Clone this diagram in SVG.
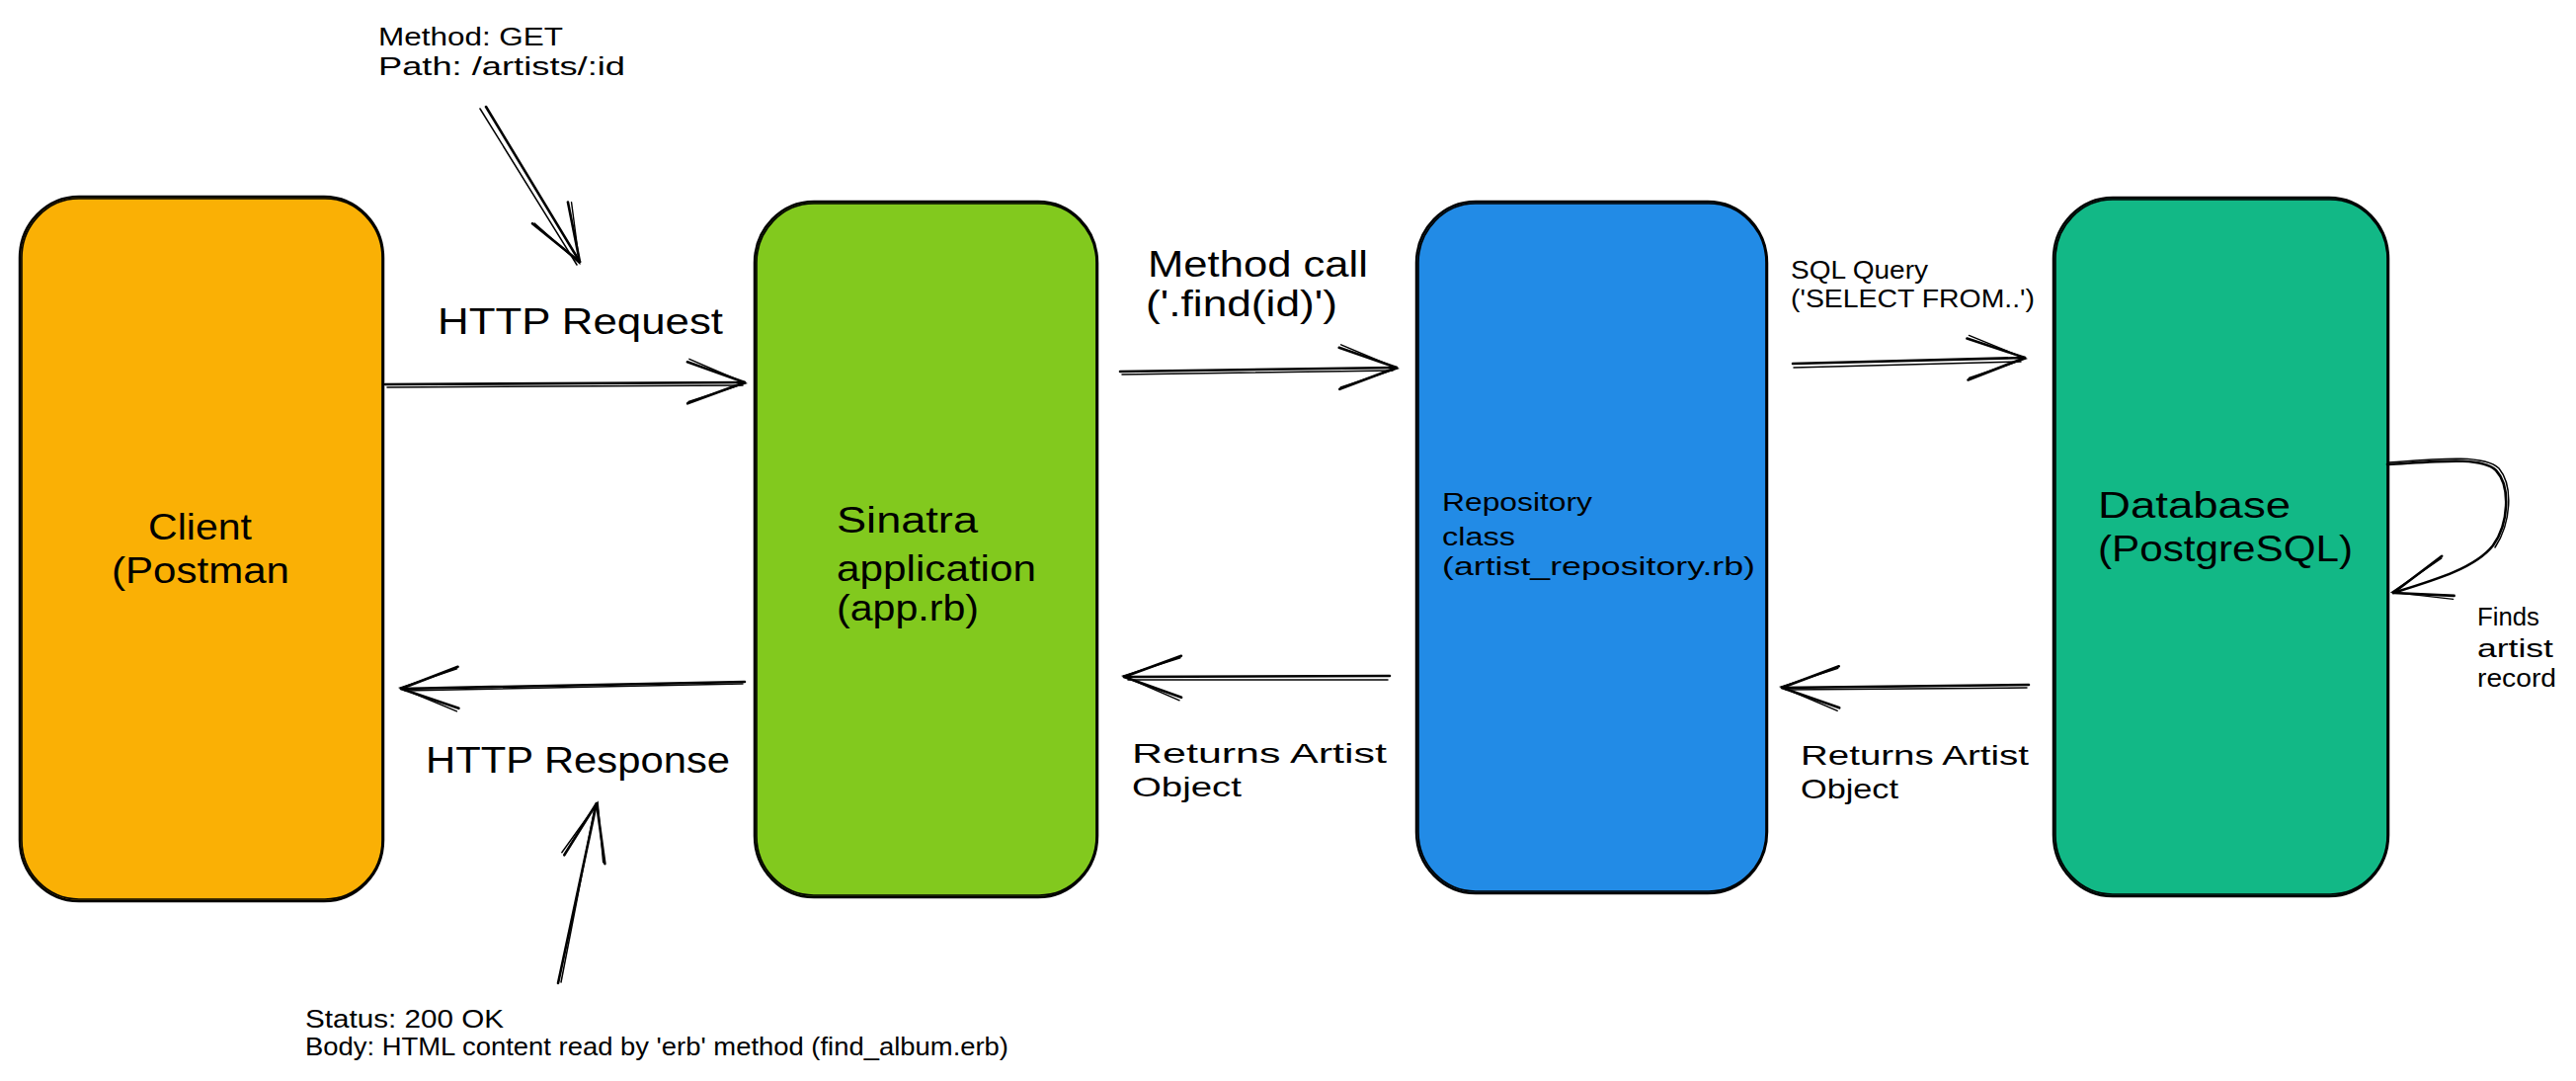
<svg xmlns="http://www.w3.org/2000/svg" width="2608" height="1094" viewBox="0 0 2608 1094">
<style>
.bx{stroke:#000;stroke-width:2.5}
.bx2{fill:none;stroke:#000;stroke-width:1.6}
.ln{fill:none;stroke:#000;stroke-width:2.6;stroke-linecap:round;stroke-linejoin:round}
.ln2{fill:none;stroke:#000;stroke-width:1.5;stroke-linecap:round}
text{font-family:"Liberation Sans",Arial,sans-serif;fill:#000}
.big{font-size:36px}
.mid{font-size:28px}
.sm{font-size:25px}
</style>
<defs>
<marker id="ah" markerUnits="userSpaceOnUse" markerWidth="80" markerHeight="60" refX="0" refY="0" viewBox="-70 -30 80 60" orient="auto" overflow="visible">
<path d="M-58,-21 L0,0 L-58,21" fill="none" stroke="#000" stroke-width="2.6" stroke-linecap="round" stroke-linejoin="round"/>
<path d="M-56,-24 L1,1 L-57,19" fill="none" stroke="#000" stroke-width="1.4" stroke-linecap="round"/>
</marker>
</defs>
<rect width="2608" height="1094" fill="#fff"/>

<g id="client">
<rect class="bx" x="20" y="199" width="368" height="713" rx="60" ry="62" fill="#fab005"/>
<rect class="bx2" x="22" y="201" width="365" height="709" rx="58" ry="60"/>
<text class="big" x="150" y="546" textLength="105" lengthAdjust="spacingAndGlyphs">Client</text>
<text class="big" x="113" y="590" textLength="180" lengthAdjust="spacingAndGlyphs">(Postman</text>
</g>

<g id="sinatra">
<rect class="bx" x="764" y="204" width="347" height="704" rx="60" ry="62" fill="#82c91e"/>
<rect class="bx2" x="766" y="206" width="344" height="700" rx="58" ry="60"/>
<text class="big" x="847" y="539" textLength="143" lengthAdjust="spacingAndGlyphs">Sinatra</text>
<text class="big" x="847" y="588" textLength="202" lengthAdjust="spacingAndGlyphs">application</text>
<text class="big" x="847" y="628" textLength="144" lengthAdjust="spacingAndGlyphs">(app.rb)</text>
</g>

<g id="repository">
<rect class="bx" x="1434" y="204" width="355" height="700" rx="60" ry="62" fill="#228be6"/>
<rect class="bx2" x="1436" y="206" width="352" height="696" rx="58" ry="60"/>
<text class="sm" x="1460" y="517" textLength="152" lengthAdjust="spacingAndGlyphs">Repository</text>
<text class="sm" x="1460" y="552" textLength="74" lengthAdjust="spacingAndGlyphs">class</text>
<text class="sm" x="1460" y="582" textLength="317" lengthAdjust="spacingAndGlyphs">(artist_repository.rb)</text>
</g>

<g id="database">
<rect class="bx" x="2079" y="200" width="339" height="707" rx="60" ry="62" fill="#12b886"/>
<rect class="bx2" x="2081" y="202" width="336" height="703" rx="58" ry="60"/>
<text class="big" x="2124" y="524" textLength="195" lengthAdjust="spacingAndGlyphs">Database</text>
<text class="big" x="2124" y="568" textLength="258" lengthAdjust="spacingAndGlyphs">(PostgreSQL)</text>
</g>

<g id="connectors">
<path class="ln" d="M492,108 L587,265" marker-end="url(#ah)"/>
<path class="ln2" d="M486,110 L584,268"/>
<path class="ln" d="M390,389 L754,387" marker-end="url(#ah)"/>
<path class="ln2" d="M392,392 L752,390"/>
<path class="ln" d="M754,690 L406,697" marker-end="url(#ah)"/>
<path class="ln2" d="M752,692 L410,699"/>
<path class="ln" d="M565,995 L604,813" marker-end="url(#ah)"/>
<path class="ln2" d="M568,994 L602,818"/>
<path class="ln" d="M1134,376 L1414,372" marker-end="url(#ah)"/>
<path class="ln2" d="M1136,379 L1410,375"/>
<path class="ln" d="M1407,684 L1138,685" marker-end="url(#ah)"/>
<path class="ln2" d="M1405,688 L1142,688"/>
<path class="ln" d="M1815,368 L2050,362" marker-end="url(#ah)"/>
<path class="ln2" d="M1816,372 L2046,366"/>
<path class="ln" d="M2054,693 L1804,696" marker-end="url(#ah)"/>
<path class="ln2" d="M2052,696 L1808,698"/>
<path class="ln" d="M2417,470 C2470,467 2512,462 2527,476 C2542,492 2540,530 2524,552 C2506,575 2465,587 2423,600" marker-end="url(#ah)"/>
<path class="ln2" d="M2419,468 C2472,464 2515,460 2530,474 C2545,492 2542,530 2526,554"/>
</g>

<g id="labels">
<text class="sm" x="383" y="46" textLength="187" lengthAdjust="spacingAndGlyphs">Method: GET</text>
<text class="sm" x="383" y="76" textLength="250" lengthAdjust="spacingAndGlyphs">Path: /artists/:id</text>
<text class="big" x="443" y="338" textLength="289" lengthAdjust="spacingAndGlyphs">HTTP Request</text>
<text class="big" x="431" y="782" textLength="308" lengthAdjust="spacingAndGlyphs">HTTP Response</text>
<text class="sm" x="309" y="1040" textLength="201" lengthAdjust="spacingAndGlyphs">Status: 200 OK</text>
<text class="sm" x="309" y="1068" textLength="712" lengthAdjust="spacingAndGlyphs">Body: HTML content read by 'erb' method (find_album.erb)</text>
<text class="big" x="1162" y="280" textLength="223" lengthAdjust="spacingAndGlyphs">Method call</text>
<text class="big" x="1160" y="320" textLength="194" lengthAdjust="spacingAndGlyphs">('.find(id)')</text>
<text class="mid" x="1146" y="772" textLength="258" lengthAdjust="spacingAndGlyphs">Returns Artist</text>
<text class="mid" x="1146" y="806" textLength="111" lengthAdjust="spacingAndGlyphs">Object</text>
<text class="sm" x="1813" y="282" textLength="139" lengthAdjust="spacingAndGlyphs">SQL Query</text>
<text class="sm" x="1813" y="311" textLength="247" lengthAdjust="spacingAndGlyphs">('SELECT FROM..')</text>
<text class="mid" x="1823" y="774" textLength="231" lengthAdjust="spacingAndGlyphs">Returns Artist</text>
<text class="mid" x="1823" y="808" textLength="99" lengthAdjust="spacingAndGlyphs">Object</text>
<text class="sm" x="2508" y="633" textLength="63" lengthAdjust="spacingAndGlyphs">Finds</text>
<text class="sm" x="2508" y="665" textLength="77" lengthAdjust="spacingAndGlyphs">artist</text>
<text class="sm" x="2508" y="695" textLength="80" lengthAdjust="spacingAndGlyphs">record</text>
</g>
</svg>
